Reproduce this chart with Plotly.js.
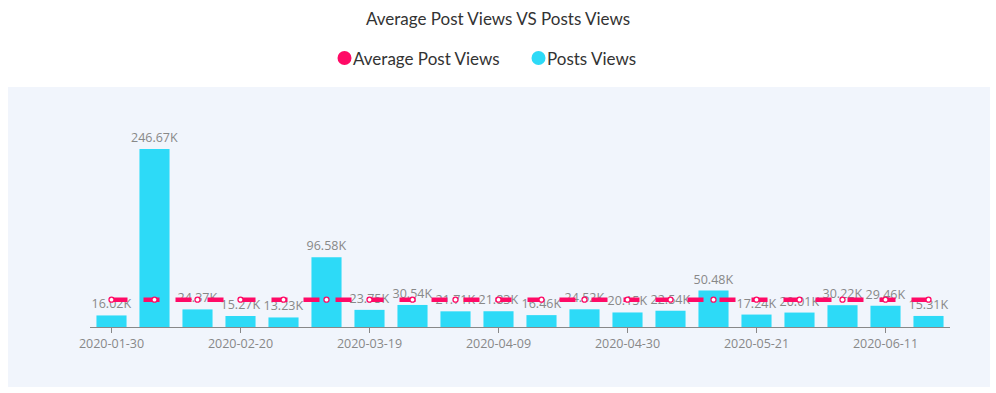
<!DOCTYPE html>
<html>
<head>
<meta charset="utf-8">
<script src="https://cdn.plot.ly/plotly-3.0.1.min.js"></script>
<style>html,body{margin:0;padding:0;background:#fff;}#chart{width:996px;height:393px;}</style>
</head>
<body>
<div id="chart"></div>
<script>
const categories = ["2020-01-30","2020-02-06","2020-02-13","2020-02-20","2020-02-27","2020-03-05","2020-03-19","2020-03-26","2020-04-02","2020-04-09","2020-04-16","2020-04-23","2020-04-30","2020-05-07","2020-05-14","2020-05-21","2020-05-28","2020-06-04","2020-06-11","2020-06-18"];
const postViews = [16020,246670,24370,15270,13230,96580,23750,30540,21710,21830,16460,24520,20150,22540,50480,17240,20010,30220,29460,15310];
const averageViews = [37820,37820,37820,37820,37820,37820,37820,37820,37820,37820,37820,37820,37820,37820,37820,37820,37820,37820,37820,37820];
const tickLabels = ["2020-01-30","2020-02-20","2020-03-19","2020-04-09","2020-04-30","2020-05-21","2020-06-11"];
const seriesNames = ["Average Post Views", "Posts Views"];

const PINK = "#ff0a66";
const CYAN = "#2ddaf7";

const barText = postViews.map(v => (v/1000).toFixed(2) + "K");

// plot area geometry (pixels) for the custom legend
const L = 90, T = 87, W = 860, H = 240;
const px = x => (x - L) / W;
const py = y => (T + H - y) / H;

const traces = [
  {
    type: "bar", name: seriesNames[1], x: categories, y: postViews,
    marker: {color: CYAN},
    text: barText, textposition: "outside", cliponaxis: false, constraintext: "none",
    textfont: {family: "Open Sans, sans-serif", size: 12.5, color: "#888888"},
    showlegend: false
  },
  {
    type: "scatter", mode: "lines+markers", name: seriesNames[0], x: categories, y: averageViews,
    line: {color: PINK, width: 4.5, dash: "16px,16px"},
    marker: {symbol: "circle", size: 5, color: "#ffffff", line: {color: PINK, width: 1.3}},
    cliponaxis: false, showlegend: false
  }
];

const legendFont = {family: "Lato, sans-serif", size: 17, color: "#333"};

const layout = {
  width: 996, height: 393,
  paper_bgcolor: "#ffffff", plot_bgcolor: "rgba(0,0,0,0)",
  margin: {l: L, r: 996 - L - W, t: T, b: 393 - T - H},
  font: {family: "Lato, sans-serif", color: "#333"},
  title: {text: "Average Post Views VS Posts Views", x: 0.5, xanchor: "center", y: 1 - 19/393, yanchor: "middle",
          font: {family: "Lato, sans-serif", size: 17, color: "#333"}},
  showlegend: false,
  bargap: 0.3,
  xaxis: {type: "category", range: [-0.5, 19.5], tickmode: "array", tickvals: tickLabels, ticktext: tickLabels,
          showgrid: false, zeroline: false, showline: true, linecolor: "#888", linewidth: 1,
          ticks: "outside", ticklen: 5, tickcolor: "#888",
          tickfont: {family: "Open Sans, sans-serif", size: 12.5, color: "#888"}},
  yaxis: {range: [0, 332600], showgrid: false, zeroline: false, showticklabels: false, showline: false, fixedrange: true},
  shapes: [
    {type: "rect", xref: "paper", yref: "paper", layer: "below",
     x0: px(8), x1: px(990), y0: py(387), y1: py(87),
     fillcolor: "#f1f5fc", line: {width: 0}},
    {type: "circle", xref: "paper", yref: "paper", xsizemode: "pixel", ysizemode: "pixel",
     xanchor: px(344.5), yanchor: py(58), x0: -7, x1: 7, y0: -7, y1: 7,
     fillcolor: PINK, line: {width: 0}},
    {type: "circle", xref: "paper", yref: "paper", xsizemode: "pixel", ysizemode: "pixel",
     xanchor: px(538.5), yanchor: py(58), x0: -7, x1: 7, y0: -7, y1: 7,
     fillcolor: CYAN, line: {width: 0}}
  ],
  annotations: [
    {text: seriesNames[0], xref: "paper", yref: "paper", x: px(351), y: py(59), xanchor: "left", yanchor: "middle",
     showarrow: false, font: legendFont},
    {text: seriesNames[1], xref: "paper", yref: "paper", x: px(545), y: py(59), xanchor: "left", yanchor: "middle",
     showarrow: false, font: legendFont}
  ]
};

Plotly.newPlot("chart", traces, layout, {displayModeBar: false, staticPlot: true});
</script>
</body>
</html>
